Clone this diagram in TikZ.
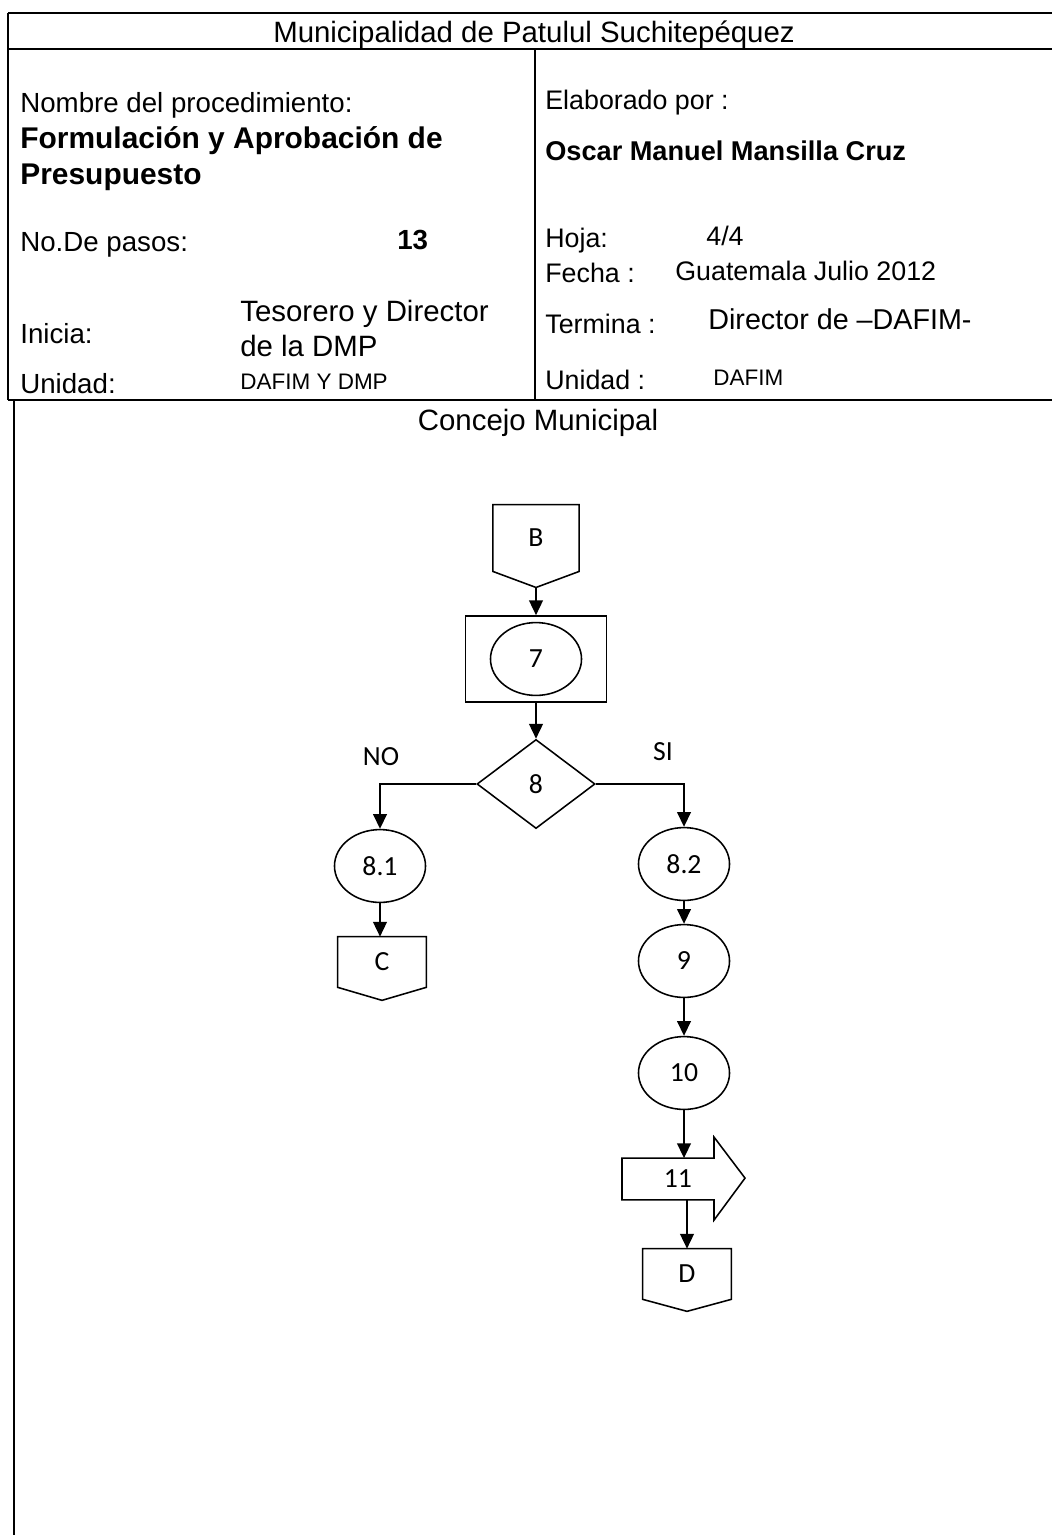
\documentclass[tikz,border=0pt]{standalone}
\usepackage{fontspec}
\setmainfont{Liberation Sans}
\newfontfamily\calibri{Carlito}
\usetikzlibrary{shapes.geometric, positioning, arrows.meta, calc}

\tikzset{
    texto/.style={anchor=base west, inner sep=0pt, font=\fontsize{16}{19}\selectfont},
    textoder/.style={texto, font=\fontsize{15.5}{18}\selectfont},
    paso/.style={ellipse, draw, line width=0.9pt, minimum width=18.5mm, minimum height=14.8mm, inner sep=0pt, font=\calibri\fontsize{16}{19}\selectfont},
    conector/.style={inner sep=0pt, outer sep=0pt, minimum width=18mm, minimum height=10.3mm, font=\calibri\fontsize{16}{19}\selectfont},
    flecha/.style={line width=0.9pt, -{Triangle[length=3mm, width=2.8mm]}}
}

\begin{document}
\begin{tikzpicture}[x=0.2032mm, y=-0.2032mm]
    \useasboundingbox (0,0) rectangle (1052,1535);

    % Рамка
    \draw[line width=1pt] (8,13) -- (1052,13);
    \draw[line width=1pt] (8,49) -- (1052,49);
    \draw[line width=1pt] (8,13) -- (8,400);
    \draw[line width=1pt] (535,49) -- (535,400);
    \draw[line width=1.4pt] (8,400) -- (1052,400);
    \draw[line width=0.8pt] (14,400) -- (14,1535);

    % Заголовок
    \node[anchor=base, inner sep=0pt, font=\fontsize{17}{20}\selectfont] (titulo) at (534,43) {Municipalidad de Patulul Suchitepéquez};

    % Левая колонка
    \node[texto] (nombre) at (20,113) {Nombre del procedimiento:};
    \node[texto, font=\bfseries\fontsize{17.3}{20}\selectfont] (proc1) at (20,149) {Formulación y Aprobación de};
    \node[texto, font=\bfseries\fontsize{17.3}{20}\selectfont] (proc2) at (20,185) {Presupuesto};
    \node[texto] (pasos) at (20,252) {No.De pasos:};
    \node[texto, font=\bfseries\fontsize{16}{19}\selectfont] (npasos) at (397,250) {13};
    \node[texto] (inicia) at (20,343) {Inicia:};
    \node[texto, font=\fontsize{17}{20}\selectfont] (ini1) at (240,321) {Tesorero y Director};
    \node[texto, font=\fontsize{17}{20}\selectfont] (ini2) at (240,356) {de la DMP};
    \node[texto] (unidad1) at (20,393) {Unidad:};
    \node[texto, font=\fontsize{13}{16}\selectfont] (unid1) at (240,389) {DAFIM Y DMP};

    % Правая колонка
    \node[textoder] (elab) at (545,110) {Elaborado por :};
    \node[texto, font=\bfseries\fontsize{15.7}{18}\selectfont] (autor) at (545,161) {Oscar Manuel Mansilla Cruz};
    \node[textoder] (hoja) at (545,248) {Hoja:};
    \node[textoder] (nhoja) at (706,246) {4/4};
    \node[textoder] (fecha) at (545,283) {Fecha :};
    \node[textoder] (nfecha) at (675,281) {Guatemala Julio 2012};
    \node[textoder] (termina) at (545,333) {Termina :};
    \node[texto, font=\fontsize{16.6}{19}\selectfont] (term1) at (708,329) {Director de –DAFIM-};
    \node[textoder] (unidad2) at (545,389) {Unidad :};
    \node[texto, font=\fontsize{13}{16}\selectfont] (unid2) at (713,385) {DAFIM};

    % Подпись области
    \node[anchor=base, inner sep=0pt, font=\fontsize{17}{20}\selectfont] (concejo) at (538,430) {Concejo Municipal};

    % Соединитель B
    \node[conector, minimum width=17.5mm, minimum height=13.6mm] (B) at (536,538) {B};
    \draw[line width=0.9pt] (B.north west) -- (B.north east) -- (B.south east)
        -- ($(B.south)+(0,16)$) coordinate (Bt) -- (B.south west) -- cycle;

    % Шаг 7
    \node[draw, line width=0.9pt, minimum width=28.6mm, minimum height=17.5mm] (R7) at (536,659) {};
    \node[paso] (P7) at (R7.center) {7};

    % Решение 8
    \node[diamond, draw, line width=0.9pt, minimum width=24mm, minimum height=18.1mm, inner sep=0pt,
          font=\calibri\fontsize{16}{19}\selectfont] (D8) at (536,784) {8};
    \node[font=\calibri\fontsize{16}{19}\selectfont] (no) at (381,757) {NO};
    \node[font=\calibri\fontsize{16}{19}\selectfont] (si) at (663,752) {SI};

    % Ветви
    \node[paso] (P81) at (380,866) {8.1};
    \node[paso] (P82) at (684,864) {8.2};
    \node[paso] (P9) at (684,961) {9};
    \node[paso] (P10) at (684,1073) {10};

    % Соединитель C
    \node[conector] (C) at (382,962) {C};
    \draw[line width=0.9pt] (C.north west) -- (C.north east) -- (C.south east)
        -- ($(C.south)+(0,13)$) -- (C.south west) -- cycle;

    % Шаг 11
    \node[conector, minimum width=18.7mm, minimum height=8.5mm] (P11) at (668,1179) {\hspace*{4mm}11};
    \draw[line width=0.9pt] (P11.north west) -- (P11.north east) -- ++(0,-21) -- ++(31,41)
        -- ++(-31,42) -- (P11.south east) -- (P11.south west) -- cycle;

    % Соединитель D
    \node[conector] (D) at (687,1274) {D};
    \draw[line width=0.9pt] (D.north west) -- (D.north east) -- (D.south east)
        -- ($(D.south)+(0,12)$) -- (D.south west) -- cycle;

    % Стрелки
    \draw[flecha] (Bt) -- (R7.north);
    \draw[flecha] (R7.south) -- (D8.north);
    \draw[flecha] (D8.west) -| (P81.north);
    \draw[flecha] (D8.east) -| (P82.north);
    \draw[flecha] (P81.south) -- (C.north -| P81.south);
    \draw[flecha] (P82.south) -- (P9.north);
    \draw[flecha] (P9.south) -- (P10.north);
    \draw[flecha] (P10.south) -- (P10.south |- P11.north);
    \draw[flecha] (D.north |- P11.south) -- (D.north);

\end{tikzpicture}
\end{document}
